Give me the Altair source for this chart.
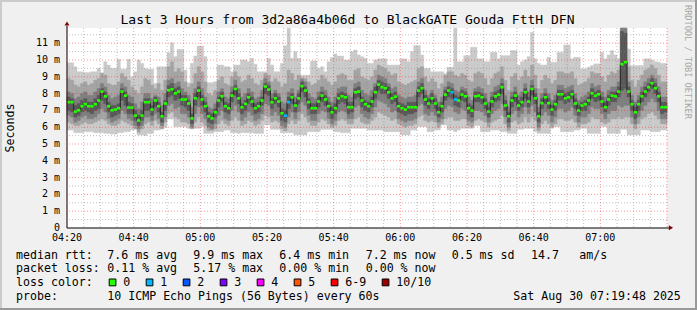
import altair as alt
import pandas as pd

# ---------------- data ----------------
median = [7.49,7.49,6.93,7.01,7.25,7.37,7.25,7.25,7.37,7.59,
 8.12,7.84,7.25,7.01,7.05,7.13,8.12,7.88,7.17,7.17,
 6.69,6.40,6.69,7.49,7.49,7.05,7.59,7.25,6.65,7.41,
 8.20,8.26,8.02,8.12,7.65,7.65,7.41,6.53,7.72,8.18,
 7.65,7.25,6.65,6.53,6.89,7.59,7.84,7.25,7.13,7.88,
 8.28,7.72,7.19,7.39,7.78,7.53,7.13,7.25,7.59,8.42,
 8.24,7.49,7.72,7.53,6.83,6.69,7.49,7.78,7.29,7.72,
 8.44,8.18,7.49,7.13,7.13,7.53,7.88,7.65,7.25,6.89,
 7.13,7.72,7.84,7.78,7.19,7.19,8.08,8.12,7.59,7.37,
 7.25,7.53,8.08,8.54,8.38,8.32,8.08,7.72,7.82,7.25,
 7.13,7.05,7.19,7.19,7.19,8.18,8.32,7.65,7.41,7.72,
 7.41,6.89,7.25,7.94,8.18,8.08,7.65,7.59,7.94,7.84,
 7.13,6.99,7.84,7.88,7.78,7.41,6.93,7.53,7.84,7.94,
 8.38,7.29,6.65,7.59,7.88,7.29,7.49,8.08,7.53,8.28,
 7.72,6.65,7.43,7.78,7.43,7.05,7.37,7.96,7.96,7.72,
 7.78,7.96,7.41,6.99,7.29,7.37,7.59,8.02,7.88,7.96,
 7.53,7.19,7.65,7.88,7.84,8.12,9.75,9.87,8.12,7.37,
 6.89,7.37,7.84,8.12,8.38,8.62,8.32,7.84,7.19,7.19]

# lost pings per step (0 = none)
lost = [0]*180
for i in (65, 66, 115, 116):
    lost[i] = 1

ping_max = [9.84,9.84,9.6,9.3,9.3,9.25,9.25,9.3,9.3,9.5,
 9.25,9.9,9.7,9.5,9.5,10.04,9.45,9.45,10.04,9.0,
 9.3,10.0,9.8,9.5,9.45,9.45,8.61,9.6,9.6,9.6,
 10.43,11.03,10.2,10.63,10.63,9.4,8.65,9.8,10.24,10.83,
 10.83,10.2,8.65,8.65,8.71,9.7,9.7,9.6,9.6,9.3,
 9.7,9.7,10.0,10.0,9.9,10.1,9.75,9.3,9.3,9.3,
 10.1,9.7,9.3,9.3,9.8,10.85,11.9,10.1,10.5,10.1,
 9.1,9.1,9.1,9.94,9.94,9.5,9.6,9.3,9.9,10.15,
 10.36,10.24,10.24,10.0,10.0,10.5,10.6,10.3,10.2,10.1,
 9.8,9.8,10.0,10.07,10.07,10.07,9.7,9.7,9.7,9.7,
 10.07,10.07,9.9,10.5,10.86,10.86,10.3,9.5,9.5,9.3,
 9.3,9.3,9.3,9.2,9.57,9.57,11.9,9.9,9.9,10.26,
 10.26,10.76,10.76,10.07,10.07,9.9,9.9,10.46,10.46,10.07,
 10.26,10.26,10.26,10.56,10.56,9.7,9.9,10.0,10.2,11.65,
 10.07,9.8,9.7,9.7,10.16,9.87,9.87,10.46,10.46,10.9,
 10.9,10.07,10.16,10.16,9.47,9.47,9.57,9.67,9.77,9.77,
 10.46,10.07,10.3,10.56,10.3,10.07,11.9,11.9,10.66,9.67,
 9.67,9.67,9.67,10.07,10.07,10.0,9.9,9.87,9.8,9.8]

ping_2nd_high = [8.9,8.8,8.5,8.4,8.6,8.7,8.5,8.6,8.8,8.9,
 9.2,9.1,8.6,8.5,8.5,8.7,9.2,9.0,8.8,8.4,
 8.2,8.0,8.4,8.9,8.8,8.5,8.3,8.6,8.2,8.8,
 9.6,9.9,9.3,9.5,9.3,8.7,8.4,8.6,9.2,9.6,
 9.3,8.7,8.0,7.9,8.2,8.8,9.0,8.6,8.5,9.0,
 9.3,9.0,8.7,8.8,9.1,8.9,8.6,8.5,8.8,9.2,
 9.1,8.7,8.9,8.7,8.4,8.6,9.4,9.2,8.8,9.1,
 8.95,8.9,8.7,8.5,8.6,8.8,9.1,8.9,8.7,8.5,
 8.7,9.1,9.2,9.1,8.8,8.8,9.4,9.5,9.0,8.9,
 8.8,9.0,9.4,9.7,9.6,9.5,9.3,9.1,9.2,8.7,
 8.6,8.5,8.6,8.7,8.8,9.5,9.6,9.0,8.7,8.9,
 8.7,8.3,8.6,9.1,9.3,9.3,9.1,9.0,9.2,9.1,
 8.8,8.7,9.2,9.3,9.2,8.9,8.5,8.9,9.2,9.3,
 9.6,8.8,8.2,9.0,9.2,8.8,9.0,9.4,9.0,9.7,
 9.1,8.3,8.8,9.1,8.9,8.6,8.8,9.3,9.3,9.2,
 9.2,9.3,8.9,8.5,8.6,8.7,8.9,9.3,9.2,9.2,
 9.0,8.7,9.1,9.3,9.2,9.4,11.9,11.9,9.6,8.8,
 8.4,8.8,9.1,9.4,9.5,9.7,9.5,9.1,8.7,8.7]

ping_3rd_high = [8.1,8.0,7.7,7.8,8.0,8.1,7.9,7.9,8.1,8.3,
 8.6,8.4,7.9,7.7,7.8,7.9,8.6,8.4,7.9,7.8,
 7.4,7.1,7.5,8.0,8.0,7.7,7.9,7.8,7.3,8.0,
 8.8,8.9,8.6,8.7,8.3,8.1,7.9,7.2,8.3,8.7,
 8.3,7.8,7.2,7.1,7.4,8.1,8.3,7.8,7.7,8.4,
 8.8,8.3,7.8,8.0,8.3,8.1,7.7,7.8,8.2,8.9,
 8.7,8.0,8.2,8.0,7.5,7.4,8.1,8.3,7.8,8.2,
 8.85,8.7,8.0,7.8,7.7,8.1,8.4,8.2,7.8,7.5,
 7.8,8.3,8.4,8.4,7.9,7.8,8.6,8.7,8.2,8.0,
 7.9,8.2,8.6,9.1,9.0,8.9,8.6,8.3,8.4,7.9,
 7.8,7.7,7.8,7.8,7.9,8.7,8.9,8.2,7.9,8.2,
 7.9,7.5,7.8,8.4,8.7,8.6,8.2,8.1,8.4,8.3,
 7.8,7.6,8.3,8.4,8.3,8.0,7.5,8.1,8.4,8.5,
 8.9,7.9,7.2,8.1,8.4,7.9,8.1,8.6,8.1,8.8,
 8.3,7.2,8.0,8.3,8.0,7.6,7.9,8.5,8.5,8.3,
 8.4,8.5,8.0,7.6,7.8,7.9,8.1,8.6,8.4,8.5,
 8.1,7.8,8.2,8.4,8.4,8.7,11.9,11.9,8.7,7.9,
 7.5,7.9,8.4,8.7,8.9,9.1,8.9,8.4,7.8,7.8]

ping_4th_high = [7.8,7.7,7.3,7.4,7.6,7.7,7.5,7.5,7.7,7.9,
 8.3,8.1,7.5,7.3,7.3,7.4,8.3,8.1,7.5,7.4,
 7.0,6.7,7.0,7.7,7.7,7.3,7.8,7.5,6.9,7.6,
 8.5,8.6,8.3,8.4,7.9,7.9,7.6,6.8,8.0,8.4,
 7.9,7.5,6.9,6.8,7.1,7.8,8.1,7.5,7.4,8.1,
 8.5,8.0,7.4,7.6,8.0,7.8,7.4,7.5,7.8,8.6,
 8.5,7.7,8.0,7.8,7.1,7.0,7.8,8.0,7.5,8.0,
 8.7,8.4,7.7,7.4,7.4,7.8,8.1,7.9,7.5,7.2,
 7.4,8.0,8.1,8.0,7.5,7.5,8.3,8.4,7.8,7.6,
 7.5,7.8,8.4,8.8,8.7,8.6,8.4,8.0,8.1,7.5,
 7.4,7.3,7.5,7.5,7.5,8.4,8.6,7.9,7.7,8.0,
 7.7,7.2,7.5,8.2,8.4,8.3,7.9,7.8,8.2,8.1,
 7.4,7.3,8.1,8.1,8.0,7.7,7.2,7.8,8.1,8.2,
 8.6,7.6,6.9,7.8,8.1,7.6,7.8,8.3,7.8,8.5,
 8.0,6.9,7.7,8.0,7.7,7.3,7.6,8.2,8.2,8.0,
 8.1,8.2,7.7,7.3,7.5,7.6,7.8,8.3,8.1,8.2,
 7.8,7.5,7.9,8.1,8.1,8.4,11.7,11.6,8.4,7.6,
 7.2,7.6,8.1,8.4,8.6,8.9,8.6,8.1,7.5,7.5]

ping_4th_low = [7.0,6.9,6.6,6.7,6.9,7.0,6.9,6.8,7.0,7.1,
 7.6,7.4,6.9,6.6,6.7,6.8,7.6,7.3,6.8,6.8,
 6.4,6.1,6.4,7.0,7.0,6.7,7.2,6.9,6.3,7.0,
 7.8,7.9,7.6,7.7,7.3,7.2,7.0,6.2,7.3,7.8,
 7.3,6.9,6.3,6.2,6.6,7.2,7.5,6.9,6.8,7.5,
 7.9,7.4,6.8,7.0,7.4,7.2,6.8,6.9,7.3,8.0,
 7.9,7.1,7.4,7.2,6.4,6.3,7.1,7.4,6.9,7.4,
 8.1,7.8,7.1,6.8,6.8,7.2,7.5,7.3,6.9,6.5,
 6.8,7.4,7.5,7.4,6.8,6.9,7.7,7.8,7.2,7.0,
 6.9,7.2,7.7,8.2,8.0,8.0,7.7,7.4,7.5,6.9,
 6.8,6.7,6.8,6.8,6.9,7.8,8.0,7.3,7.1,7.4,
 7.1,6.6,6.9,7.6,7.8,7.7,7.3,7.2,7.6,7.5,
 6.8,6.6,7.5,7.5,7.4,7.1,6.6,7.2,7.5,7.6,
 8.0,7.0,6.3,7.2,7.5,7.0,7.2,7.7,7.2,7.9,
 7.4,6.3,7.1,7.4,7.1,6.7,7.0,7.6,7.6,7.4,
 7.5,7.7,7.1,6.7,7.0,7.0,7.3,7.7,7.5,7.6,
 7.2,6.9,7.3,7.5,7.5,7.8,8.2,8.3,7.8,7.0,
 6.5,7.0,7.5,7.8,8.1,8.3,8.0,7.5,6.8,6.9]

ping_3rd_low = [6.7,6.6,6.3,6.4,6.6,6.7,6.5,6.5,6.6,6.8,
 7.1,6.9,6.5,6.3,6.4,6.5,7.0,6.8,6.5,6.4,
 6.1,5.9,6.1,6.6,6.6,6.4,6.8,6.5,6.1,6.6,
 7.3,7.4,7.1,7.2,6.8,6.8,6.6,6.0,6.8,7.2,
 6.8,6.5,6.0,5.9,6.2,6.7,7.0,6.5,6.4,7.0,
 7.3,6.9,6.4,6.6,6.9,6.7,6.4,6.5,6.8,7.4,
 7.3,6.7,6.9,6.7,6.1,6.0,6.6,6.9,6.5,6.9,
 7.5,7.3,6.7,6.4,6.4,6.8,7.0,6.9,6.5,6.2,
 6.4,6.9,7.0,6.9,6.5,6.5,7.2,7.3,6.8,6.6,
 6.5,6.8,7.2,7.6,7.5,7.4,7.2,6.9,7.0,6.5,
 6.4,6.3,6.4,6.4,6.5,7.3,7.4,6.8,6.7,6.9,
 6.7,6.3,6.5,7.1,7.3,7.2,6.9,6.8,7.1,7.0,
 6.4,6.3,7.0,7.0,6.9,6.7,6.3,6.8,7.0,7.1,
 7.4,6.6,6.0,6.8,7.0,6.6,6.8,7.2,6.8,7.3,
 6.9,6.0,6.7,6.9,6.7,6.3,6.6,7.1,7.1,6.9,
 7.0,7.2,6.7,6.3,6.6,6.6,6.8,7.2,7.1,7.1,
 6.8,6.5,6.8,7.0,7.0,7.3,7.2,7.3,7.3,6.6,
 6.2,6.6,7.0,7.3,7.5,7.7,7.5,7.0,6.5,6.5]

ping_2nd_low = [6.3,6.2,6.1,6.1,6.2,6.3,6.2,6.2,6.3,6.4,
 6.5,6.4,6.2,6.1,6.1,6.2,6.4,6.3,6.2,6.1,
 5.9,5.7,5.9,6.2,6.3,6.1,6.4,6.2,5.9,6.3,
 6.8,6.9,6.6,6.5,6.3,6.3,6.2,5.9,6.3,6.6,
 6.3,6.1,5.8,5.8,5.9,6.2,6.4,6.2,6.1,6.4,
 6.6,6.4,6.1,6.2,6.4,6.3,6.1,6.2,6.4,6.7,
 6.6,6.3,6.4,6.3,5.9,5.8,6.2,6.4,6.2,6.4,
 6.8,6.6,6.3,6.1,6.1,6.3,6.5,6.4,6.2,6.0,
 6.1,6.4,6.5,6.4,6.2,6.2,6.5,6.6,6.3,6.2,
 6.2,6.4,6.6,6.9,6.8,6.7,6.6,6.4,6.5,6.2,
 6.1,6.0,6.1,6.1,6.2,6.6,6.7,6.4,6.3,6.4,
 6.3,6.0,6.2,6.5,6.6,6.6,6.4,6.4,6.5,6.5,
 6.1,6.0,6.4,6.5,6.4,6.3,6.0,6.3,6.4,6.5,
 6.7,6.2,5.8,6.3,6.4,6.2,6.3,6.6,6.3,6.6,
 6.4,5.8,6.2,6.4,6.2,6.0,6.2,6.5,6.5,6.4,
 6.4,6.5,6.3,6.0,6.2,6.2,6.3,6.6,6.5,6.5,
 6.3,6.2,6.3,6.5,6.5,6.6,6.5,6.6,6.6,6.2,
 5.9,6.2,6.5,6.6,6.8,6.9,6.7,6.5,6.2,6.2]

ping_min = [5.83,5.83,5.67,5.67,5.67,5.73,5.73,5.73,5.67,5.67,
 5.67,5.63,5.63,5.59,5.59,5.67,5.67,5.73,5.73,5.83,
 5.87,5.54,5.54,5.5,5.63,5.63,5.83,5.83,5.9,6.0,
 6.5,6.5,6.03,6.03,6.03,6.03,5.93,5.93,5.93,5.93,
 6.03,5.63,5.63,5.63,5.73,5.73,5.73,5.83,5.83,5.67,
 5.67,5.63,5.67,5.67,5.67,5.67,5.63,5.63,5.63,6.13,
 6.13,5.87,5.87,5.87,5.67,5.67,5.67,5.67,5.54,5.54,
 5.54,5.54,5.73,5.73,5.73,5.73,5.87,5.87,5.87,5.87,
 5.73,5.73,5.67,5.67,5.67,5.93,5.93,5.93,5.93,5.93,
 5.83,5.83,5.83,5.83,5.83,5.73,5.73,5.73,5.73,5.73,
 5.54,5.54,5.54,5.83,5.83,6.03,6.03,6.03,5.73,5.73,
 5.83,5.83,6.13,6.13,5.83,5.83,5.73,5.83,5.93,5.93,
 5.93,5.93,6.1,6.1,5.73,5.73,5.73,5.83,5.83,5.83,
 5.73,5.73,5.63,5.63,5.63,5.87,5.87,5.93,5.93,5.93,
 5.73,5.63,5.63,5.63,5.63,5.93,6.03,6.03,5.73,5.73,
 5.73,5.73,5.83,5.83,5.93,5.93,5.63,5.63,5.63,5.63,
 6.03,6.03,5.63,5.63,5.63,5.63,5.87,5.87,5.54,5.54,
 5.54,5.54,5.83,5.83,5.83,5.73,5.73,5.73,5.83,5.83]

x_tick_steps = [0, 20, 40, 60, 80, 100, 120, 140, 160]
x_tick_labels = ["04:20", "04:40", "05:00", "05:20", "05:40", "06:00", "06:20", "06:40", "07:00"]
y_tick_values = [0, 1, 2, 3, 4, 5, 6, 7, 8, 9, 10, 11]
y_tick_labels = ["0\u00a0\u00a0", "1 m", "2 m", "3 m", "4 m", "5 m", "6 m", "7 m",
                 "8 m", "9 m", "10 m", "11 m"]

title_text = "Last 3 Hours from 3d2a86a4b06d to BlackGATE Gouda FttH DFN"
row_rtt = ["median rtt:", "7.6 ms avg", "9.9 ms max", "6.4 ms min", "7.2 ms now",
           "0.5 ms sd", "14.7", "am/s"]
row_loss = ["packet loss:", "0.11 % avg", "5.17 % max", "0.00 % min", "0.00 % now"]
loss_labels = ["0", "1", "2", "3", "4", "5", "6-9", "10/10"]
loss_colors = ["#26ff00", "#00b8ff", "#0059ff", "#7e00ff", "#ff00ff", "#ff5500", "#ff0000", "#a10000"]
row_probe = ["probe:", "10 ICMP Echo Pings (56 Bytes) every 60s", "Sat Aug 30 07:19:48 2025"]

# ---------------- layout ----------------
FONT = "DejaVu Sans Mono"
W, H = 600, 200
OX, OY = 67, 28          # plot origin in the page
N = len(median)
steps = list(range(N))
xs = alt.Scale(domain=[0, N], nice=False, zero=False)
ys = alt.Scale(domain=[0, 11.905], nice=False, zero=False)
one = pd.DataFrame({"k": [0]})


def px(xa):
    return xa - OX


def py(ya):
    return ya - OY


def band(lo, hi, color):
    df = pd.DataFrame({"s": steps, "e": [s + 1 for s in steps], "lo": lo, "hi": hi})
    return alt.Chart(df).mark_rect(fill=color, stroke=color, strokeWidth=0.4).encode(
        x=alt.X("s:Q", scale=xs, axis=None), x2="e:Q",
        y=alt.Y("lo:Q", scale=ys, axis=None), y2="hi:Q")


def txt(x, y, s, size=11.6, color="black", align="left", baseline="alphabetic", angle=0):
    return alt.Chart(one).mark_text(text=s, font=FONT, fontSize=size, color=color,
                                    align=align, baseline=baseline, angle=angle).encode(
        x=alt.value(x), y=alt.value(y))


def hrule(x1, x2, y, color, w):
    return alt.Chart(one).mark_rule(color=color, strokeWidth=w).encode(
        x=alt.value(x1), x2=alt.value(x2), y=alt.value(y))


def vrule(x, y1, y2, color, w):
    return alt.Chart(one).mark_rule(color=color, strokeWidth=w).encode(
        x=alt.value(x), y=alt.value(y1), y2=alt.value(y2))


layers = []

# smoke
layers.append(band(ping_min, ping_max, "#cacaca"))
layers.append(band(ping_2nd_low, ping_2nd_high, "#a4a4a4"))
layers.append(band(ping_3rd_low, ping_3rd_high, "#7e7e7e"))
layers.append(band(ping_4th_low, ping_4th_high, "#585858"))

# grid
minor_x = pd.DataFrame({"v": [v for v in range(5, N + 1, 5) if v % 20 != 0]})
major_x = pd.DataFrame({"v": list(range(20, N + 1, 20))})
minor_y = pd.DataFrame({"v": [k / 2 for k in range(1, 24, 2)]})
major_y = pd.DataFrame({"v": list(range(1, 12))})
layers.append(alt.Chart(minor_x).mark_rule(color="#8c8c8c", opacity=0.55, strokeDash=[1, 2]).encode(
    x=alt.X("v:Q", scale=xs, axis=None)))
layers.append(alt.Chart(minor_y).mark_rule(color="#8c8c8c", opacity=0.55, strokeDash=[1, 2]).encode(
    y=alt.Y("v:Q", scale=ys, axis=None)))
layers.append(alt.Chart(major_x).mark_rule(color="#ff0000", opacity=0.4, strokeDash=[1, 2]).encode(
    x=alt.X("v:Q", scale=xs, axis=None)))
layers.append(alt.Chart(major_y).mark_rule(color="#ff0000", opacity=0.4, strokeDash=[1, 2]).encode(
    y=alt.Y("v:Q", scale=ys, axis=None)))

# median
def loss_color(n):
    if n <= 5:
        return loss_colors[n]
    if n < 10:
        return loss_colors[6]
    return loss_colors[7]

med_df = pd.DataFrame({"s": steps, "e": [s + 1 for s in steps], "m": median,
                       "c": [loss_color(n) for n in lost]})
layers.append(alt.Chart(med_df).mark_line(interpolate="step-after", color="#262626", strokeWidth=1).encode(
    x=alt.X("s:Q", scale=xs, axis=None), y=alt.Y("m:Q", scale=ys, axis=None)))
layers.append(alt.Chart(med_df).mark_rule(strokeWidth=2.6).encode(
    x=alt.X("s:Q", scale=xs, axis=None), x2="e:Q",
    y=alt.Y("m:Q", scale=ys, axis=None), color=alt.Color("c:N", scale=None)))

# axes
layers.append(hrule(0, 602, H, "#000000", 1.2))
layers.append(vrule(0, -2, H, "#3a1a1a", 1.2))
layers.append(alt.Chart(one).mark_point(shape="triangle-up", filled=True, size=24, color="#7f0000", opacity=1).encode(
    x=alt.value(0), y=alt.value(-4.5)))
layers.append(alt.Chart(one).mark_point(shape="triangle-right", filled=True, size=24, color="#7f0000", opacity=1).encode(
    x=alt.value(604), y=alt.value(H - 0.3)))

# tick labels
xt = pd.DataFrame({"v": x_tick_steps, "t": x_tick_labels})
layers.append(alt.Chart(xt).mark_text(font=FONT, fontSize=10, align="center", baseline="alphabetic").encode(
    x=alt.X("v:Q", scale=xs, axis=None), y=alt.value(py(240.7)), text="t:N"))
yt = pd.DataFrame({"v": y_tick_values, "t": y_tick_labels})
layers.append(alt.Chart(yt).mark_text(font=FONT, fontSize=10, align="right", baseline="middle").encode(
    x=alt.value(px(60)), y=alt.Y("v:Q", scale=ys, axis=None), text="t:N"))

# titles
layers.append(txt(px(347.5), py(24), title_text, size=13, align="center"))
layers.append(txt(px(10.5), py(128), "Seconds", size=11.6, align="center", baseline="middle", angle=270))
layers.append(txt(px(688), py(5), "RRDTOOL / TOBI OETIKER", size=8.6, color="#a8a8a8",
                  baseline="middle", angle=90))

# legend
rtt_x = [16, 107.3, 193.3, 279.3, 365.7, 451.7, 531, 579.3]
for s, xa in zip(row_rtt, rtt_x):
    layers.append(txt(px(xa), py(258.5), s))
for s, xa in zip(row_loss, rtt_x):
    layers.append(txt(px(xa), py(272.3), s))
layers.append(txt(px(16), py(286.1), "loss color:"))
sq = 108.7
for lab, col in zip(loss_labels, loss_colors):
    layers.append(alt.Chart(one).mark_rect(fill=col, stroke="black", strokeWidth=1).encode(
        x=alt.value(px(sq + 0.5)), x2=alt.value(px(sq + 7.2)),
        y=alt.value(py(279.0)), y2=alt.value(py(285.8))))
    layers.append(txt(px(sq + 14.6), py(286.1), lab))
    sq += 14.6 + 7.0 * len(lab) + 15.4
for s, xa in zip(row_probe, [16, 107.3, 513.3]):
    layers.append(txt(px(xa), py(299.9), s))

# 3D frame of the image
layers.append(hrule(px(0), px(697), py(1), "#cbcbcb", 2))
layers.append(vrule(px(1), py(0), py(310), "#cbcbcb", 2))
layers.append(hrule(px(0), px(697), py(309), "#999999", 2))
layers.append(vrule(px(696), py(0), py(310), "#999999", 2))

chart = alt.layer(*layers).properties(
    width=W, height=H,
    autosize=alt.AutoSizeParams(type="none"),
    padding={"left": OX, "top": OY, "right": 697 - OX - W, "bottom": 310 - OY - H},
).configure(background="#f0f0f0").configure_view(fill="white", stroke=None)

chart.save("out.html", embed_options={"renderer": "svg", "actions": False})
